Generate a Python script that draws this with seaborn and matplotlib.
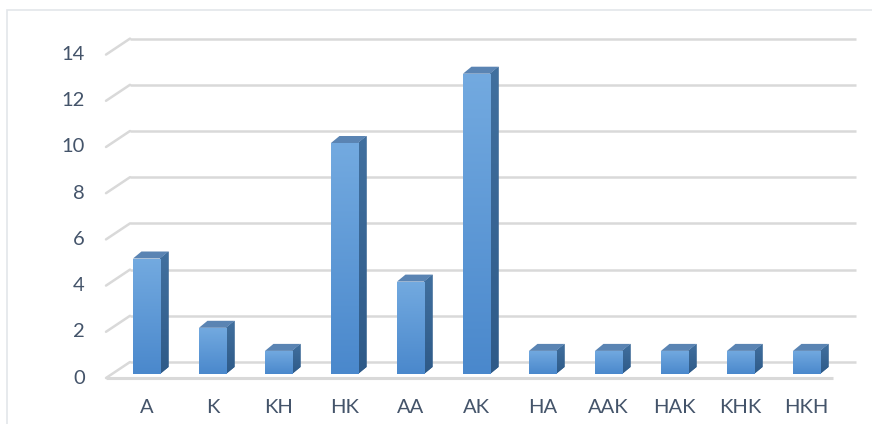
import numpy as np
import matplotlib
matplotlib.use("Agg")
import matplotlib.pyplot as plt
import seaborn as sns
from matplotlib.patches import Polygon, Rectangle
from matplotlib.colors import LinearSegmentedColormap

categories = ["A", "K", "KH", "HK", "AA", "AK", "HA", "AAK", "HAK", "KHK", "HKH"]
counts = [5, 2, 1, 10, 4, 13, 1, 1, 1, 1, 1]
y_ticks = [0, 2, 4, 6, 8, 10, 12, 14]

sns.set_theme(style="white")
plt.rcParams["font.family"] = ["Lato", "DejaVu Sans"]

W, H = 872, 424
fig = plt.figure(figsize=(W / 100, H / 100), dpi=100)

# background layer in pixel coordinates (origin bottom-left) for walls and grid
bg = fig.add_axes([0, 0, 1, 1], zorder=0)
bg.set_xlim(0, W)
bg.set_ylim(0, H)
bg.axis("off")

# plot plane holding the columns
left_px, right_px = 113.5, 839.5
bottom_px, top_px = 374.0, 50.6  # measured from the top edge
ax = fig.add_axes([left_px / W, (H - bottom_px) / H,
                   (right_px - left_px) / W, (bottom_px - top_px) / H], zorder=1)
ax.set_facecolor("none")

label_size = 14.5

df = {"cat": categories, "n": counts}
sns.barplot(x="cat", y="n", data=df, ax=ax, width=0.41, color="#5B9BD5",
            saturation=1, linewidth=0, zorder=3)
ax.set_xlim(-0.5, len(categories) - 0.5)
ax.set_ylim(0, 14)
ax.set_xlabel("")
ax.set_ylabel("")
ax.set_yticks([])
for s in ax.spines.values():
    s.set_visible(False)
ax.tick_params(axis="x", length=0, pad=18, labelsize=label_size, labelcolor="#44546A")

text_color = "#44546A"
grid_color = "#D9D9D9"

# depth geometry (pixels)
front_dy = -4      # front edge of floor sits below the column plane
back_dy = 12       # back wall sits above the column plane
wall_x0, wall_x1 = 106, 130
back_right = 856
floor_right = 833

fig.canvas.draw()
to_px = ax.transData.transform

# outer frame
bg.add_patch(Rectangle((7, -20), 960, H - 9.5 + 20, fill=False,
                       edgecolor="#E3E6EA", linewidth=1.2, zorder=0))

for v in y_ticks:
    yb = to_px((0, v))[1]
    yf = yb + front_dy
    yk = yb + back_dy
    bg.plot([wall_x1, back_right], [yk, yk], color=grid_color, lw=1.8,
            solid_capstyle="butt", zorder=1)
    bg.plot([wall_x0, wall_x1], [yf, yk], color=grid_color, lw=1.8, zorder=1)
    bg.text(85, yf, str(v), ha="right", va="center", fontsize=label_size,
            color=text_color, zorder=2)

# floor front edge
y0 = to_px((0, 0))[1] + front_dy
bg.plot([wall_x0, floor_right], [y0, y0], color=grid_color, lw=2.2,
        solid_capstyle="butt", zorder=1)

# 3D column sides, tops and gradient fronts
ddx, ddy = 8.5, 7.0
cmap_front = LinearSegmentedColormap.from_list("front", ["#4A88CC", "#73AAE0"])
cmap_side = LinearSegmentedColormap.from_list("side", ["#2E5A88", "#41709F"])
grad = np.linspace(0, 1, 256).reshape(-1, 1)

for p in list(ax.patches):
    x0 = p.get_x()
    x1 = x0 + p.get_width()
    h = p.get_height()
    br = to_px((x1, 0))
    tl = to_px((x0, h))
    tr = to_px((x1, h))
    side = Polygon([br, (br[0] + ddx, br[1] + ddy), (tr[0] + ddx, tr[1] + ddy), tr],
                   closed=True, facecolor="#33618F", edgecolor="none", zorder=3)
    bg.add_patch(side)
    im_side = bg.imshow(grad, cmap=cmap_side, origin="lower", aspect="auto",
                        extent=(br[0], br[0] + ddx, br[1], tr[1] + ddy), zorder=3.5)
    im_side.set_clip_path(side)
    top = Polygon([tl, (tl[0] + ddx, tl[1] + ddy), (tr[0] + ddx, tr[1] + ddy), tr],
                  closed=True, facecolor="#5A84B3", edgecolor="none", zorder=4)
    bg.add_patch(top)
    im = ax.imshow(grad, cmap=cmap_front, origin="lower", aspect="auto",
                   extent=(x0, x1, 0, h), zorder=4)
    im.set_clip_path(p)

bg.set_xlim(0, W)
bg.set_ylim(0, H)
ax.set_xlim(-0.5, len(categories) - 0.5)
ax.set_ylim(0, 14)

fig.savefig("out.png", dpi=100)
